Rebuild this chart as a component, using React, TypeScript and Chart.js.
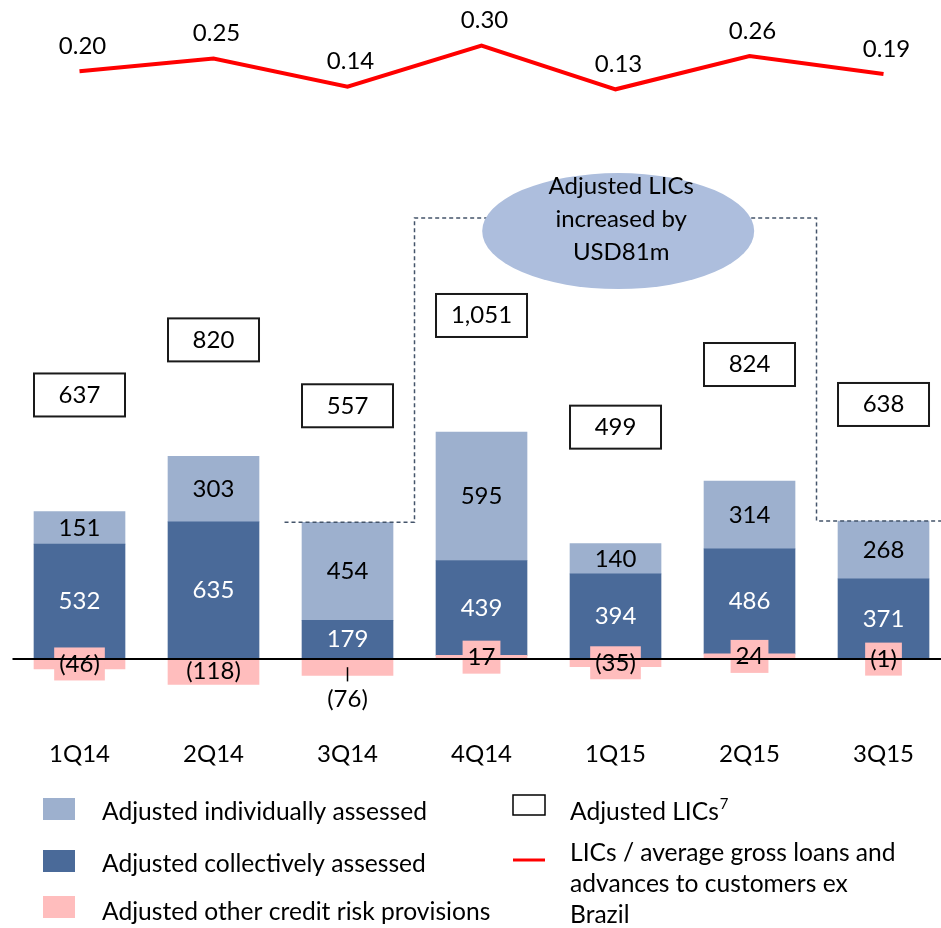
import React, { useEffect, useRef } from "react";
import { Chart, registerables } from "chart.js";

Chart.register(...registerables);

// ---------- data ----------
const categories = ["1Q14", "2Q14", "3Q14", "4Q14", "1Q15", "2Q15", "3Q15"];
const otherProvisions = [-46, -118, -76, 17, -35, 24, -1];
const collectivelyAssessed = [532, 635, 179, 439, 394, 486, 371];
const individuallyAssessed = [151, 303, 454, 595, 140, 314, 268];
const licRatio = [0.2, 0.25, 0.14, 0.3, 0.13, 0.26, 0.19];
const calloutLines = ["Adjusted LICs", "increased by", "USD81m"];

// ---------- style / layout ----------
const FAMILY = "Lato, 'Open Sans', sans-serif";
const font = (s: number) => `${s}px ${FAMILY}`;
const COLORS = {
  individual: "#9DB0CE",
  collective: "#4A6A99",
  other: "#FFBDBD",
  line: "#FF0000",
  ellipse: "#ADBEDD",
  dash: "#44546A",
  text: "#000000",
};
const W = 941;
const H = 928;
const X_MIN = -0.5933;
const X_MAX = 6.429;
const Y_MIN = -328.7;
const Y_MAX = 3050.9;
const Y2_MIN = -2.368;
const Y2_MAX = 0.4782;
const PAD_BOTTOM = 149.2;
const BAR_W = 91;
// how the "other provisions" label is placed per bar
const otherLabelModes = ["box", "inside", "below", "box", "box", "box", "box"];
const CALLOUT = { x: 4.02, y: 1981, rx: 136, ry: 58, dashY: 2042, leftStart: 1.53, leftX: 2.5, rightX: 5.5, fromIdx: 2, toIdx: 6 };

const fmtSigned = (v: number) => (v < 0 ? `(${-v})` : `${v}`);
const fmtTotal = (v: number) => v.toLocaleString("en-US");

const overlayPlugin = {
  id: "overlay",
  afterDatasetsDraw(chart: any) {
    const { ctx, scales } = chart;
    const xs = scales.x;
    const ys = scales.y;
    const other = chart.getDatasetMeta(0).data;
    const col = chart.getDatasetMeta(1).data;
    const ind = chart.getDatasetMeta(2).data;
    const line = chart.getDatasetMeta(3).data;
    const y0 = ys.getPixelForValue(0);

    ctx.save();
    ctx.font = font(24);
    ctx.textAlign = "center";
    ctx.textBaseline = "middle";

    // pink label backgrounds
    otherProvisions.forEach((v, i) => {
      if (otherLabelModes[i] !== "box") return;
      const el = other[i];
      const cy = (el.y + el.base) / 2;
      const w = ctx.measureText(fmtSigned(v)).width + 10;
      ctx.fillStyle = COLORS.other;
      ctx.fillRect(el.x - w / 2, cy - 16.5, w, 33);
    });

    // zero baseline
    ctx.strokeStyle = "#000";
    ctx.lineWidth = 2;
    ctx.beginPath();
    ctx.moveTo(xs.getPixelForValue(-0.5), y0);
    ctx.lineTo(xs.getPixelForValue(6.5), y0);
    ctx.stroke();

    // segment labels
    collectivelyAssessed.forEach((v, i) => {
      const el = col[i];
      ctx.fillStyle = "#FFFFFF";
      ctx.fillText(String(v), el.x, (el.y + el.base) / 2);
    });
    individuallyAssessed.forEach((v, i) => {
      const el = ind[i];
      ctx.fillStyle = COLORS.text;
      ctx.fillText(String(v), el.x, (el.y + el.base) / 2);
    });
    otherProvisions.forEach((v, i) => {
      const el = other[i];
      const cy = (el.y + el.base) / 2;
      ctx.fillStyle = COLORS.text;
      if (otherLabelModes[i] === "below") {
        const bottom = Math.max(el.y, el.base);
        ctx.strokeStyle = "#000";
        ctx.lineWidth = 1.5;
        ctx.beginPath();
        ctx.moveTo(el.x, cy);
        ctx.lineTo(el.x, bottom + 6);
        ctx.stroke();
        ctx.fillText(fmtSigned(v), el.x, bottom + 24);
      } else {
        ctx.fillText(fmtSigned(v), el.x, cy);
      }
    });

    // total boxes
    categories.forEach((_, i) => {
      const total = otherProvisions[i] + collectivelyAssessed[i] + individuallyAssessed[i];
      const pos =
        Math.max(0, otherProvisions[i]) + Math.max(0, collectivelyAssessed[i]) + Math.max(0, individuallyAssessed[i]);
      const top = ys.getPixelForValue(pos);
      const bx = ind[i].x;
      const bottom = top - 95;
      const bh = 43;
      const bw = ind[i].width;
      ctx.fillStyle = "#FFFFFF";
      ctx.fillRect(bx - bw / 2, bottom - bh, bw, bh);
      ctx.strokeStyle = "#1A1A1A";
      ctx.lineWidth = 2;
      ctx.strokeRect(bx - bw / 2, bottom - bh, bw, bh);
      ctx.fillStyle = COLORS.text;
      ctx.fillText(fmtTotal(total), bx, bottom - bh / 2);
    });

    // dashed connectors
    const posSum = (i: number) =>
      Math.max(0, otherProvisions[i]) + collectivelyAssessed[i] + individuallyAssessed[i];
    const dashY = ys.getPixelForValue(CALLOUT.dashY);
    const ex = xs.getPixelForValue(CALLOUT.x);
    const ey = ys.getPixelForValue(CALLOUT.y);
    ctx.strokeStyle = COLORS.dash;
    ctx.lineWidth = 1.5;
    ctx.setLineDash([4, 3]);
    ctx.beginPath();
    ctx.moveTo(xs.getPixelForValue(CALLOUT.leftStart), ys.getPixelForValue(posSum(CALLOUT.fromIdx)));
    ctx.lineTo(xs.getPixelForValue(CALLOUT.leftX), ys.getPixelForValue(posSum(CALLOUT.fromIdx)));
    ctx.lineTo(xs.getPixelForValue(CALLOUT.leftX), dashY);
    ctx.lineTo(ex, dashY);
    ctx.moveTo(ex, dashY);
    ctx.lineTo(xs.getPixelForValue(CALLOUT.rightX), dashY);
    ctx.lineTo(xs.getPixelForValue(CALLOUT.rightX), ys.getPixelForValue(posSum(CALLOUT.toIdx)));
    ctx.lineTo(xs.getPixelForValue(6.5), ys.getPixelForValue(posSum(CALLOUT.toIdx)));
    ctx.stroke();
    ctx.setLineDash([]);

    // callout ellipse
    ctx.fillStyle = COLORS.ellipse;
    ctx.beginPath();
    ctx.ellipse(ex, ey, CALLOUT.rx, CALLOUT.ry, 0, 0, Math.PI * 2);
    ctx.fill();
    ctx.fillStyle = COLORS.text;
    calloutLines.forEach((t, k) => {
      ctx.fillText(t, ex + 3, ey - 45 + k * 33);
    });

    // line labels
    licRatio.forEach((v, i) => {
      const p = line[i];
      ctx.fillText(v.toFixed(2), p.x + 3, p.y - 25);
    });

    // legend
    ctx.textAlign = "left";
    ctx.textBaseline = "alphabetic";
    ctx.font = font(24.6);
    const leftItems = [
      { color: COLORS.individual, text: "Adjusted individually assessed", sq: 798, base: 820 },
      { color: COLORS.collective, text: "Adjusted collectively assessed", sq: 850, base: 872 },
      { color: COLORS.other, text: "Adjusted other credit risk provisions", sq: 896, base: 920 },
    ];
    leftItems.forEach((it) => {
      ctx.fillStyle = it.color;
      ctx.fillRect(43, it.sq, 32, 22);
      ctx.fillStyle = COLORS.text;
      ctx.fillText(it.text, 102, it.base);
    });
    // Adjusted LICs box
    ctx.fillStyle = "#FFFFFF";
    ctx.fillRect(513, 795, 32, 20);
    ctx.strokeStyle = "#000";
    ctx.lineWidth = 1.5;
    ctx.strokeRect(513, 795, 32, 20);
    ctx.fillStyle = COLORS.text;
    ctx.fillText("Adjusted LICs", 570, 820);
    const w1 = ctx.measureText("Adjusted LICs").width;
    ctx.font = font(15);
    ctx.fillText("7", 570 + w1 + 1, 809);
    ctx.font = font(24.6);
    // ratio line
    ctx.strokeStyle = COLORS.line;
    ctx.lineWidth = 3;
    ctx.beginPath();
    ctx.moveTo(513, 860);
    ctx.lineTo(545, 860);
    ctx.stroke();
    ["LICs / average gross loans and", "advances to customers ex", "Brazil"].forEach((t, k) => {
      ctx.fillText(t, 570, 861 + k * 31);
    });

    ctx.restore();
  },
};

export default function App() {
  const ref = useRef<HTMLCanvasElement | null>(null);
  useEffect(() => {
    document.body.style.margin = "0";
    const canvas = ref.current!;
    const pts = (arr: number[]) => arr.map((v, i) => ({ x: i, y: v }));
    const chart = new Chart(canvas, {
      type: "bar",
      data: {
        datasets: [
          { type: "bar", label: "Adjusted other credit risk provisions", data: pts(otherProvisions), backgroundColor: COLORS.other, barThickness: BAR_W, yAxisID: "y" },
          { type: "bar", label: "Adjusted collectively assessed", data: pts(collectivelyAssessed), backgroundColor: COLORS.collective, barThickness: BAR_W, yAxisID: "y" },
          { type: "bar", label: "Adjusted individually assessed", data: pts(individuallyAssessed), backgroundColor: COLORS.individual, barThickness: BAR_W, yAxisID: "y" },
          {
            type: "line",
            label: "LICs / average gross loans and advances to customers ex Brazil",
            data: pts(licRatio),
            borderColor: COLORS.line,
            borderWidth: 4,
            pointRadius: 0,
            tension: 0,
            yAxisID: "y2",
          },
        ] as any,
      },
      options: {
        responsive: false,
        animation: false,
        devicePixelRatio: 1,
        layout: { padding: { top: 0, left: 0, right: 0, bottom: PAD_BOTTOM } },
        plugins: { legend: { display: false }, tooltip: { enabled: false } },
        scales: {
          x: {
            type: "linear",
            min: X_MIN,
            max: X_MAX,
            bounds: "data",
            offset: false,
            stacked: true,
            grid: { display: false, drawTicks: false },
            border: { display: false },
            afterBuildTicks: (s: any) => {
              s.ticks = categories.map((_, i) => ({ value: i }));
            },
            afterFit: (s: any) => {
              s.paddingLeft = 0;
              s.paddingRight = 0;
            },
            ticks: {
              autoSkip: false,
              maxRotation: 0,
              padding: 10,
              color: COLORS.text,
              font: { family: FAMILY, size: 24 },
              callback: (v: any) => categories[v] ?? "",
            },
          },
          y: { type: "linear", display: false, stacked: true, min: Y_MIN, max: Y_MAX },
          y2: { type: "linear", display: false, min: Y2_MIN, max: Y2_MAX },
        },
      } as any,
      plugins: [overlayPlugin],
    });
    return () => chart.destroy();
  }, []);
  return <canvas ref={ref} width={W} height={H} style={{ display: "block" }} />;
}
